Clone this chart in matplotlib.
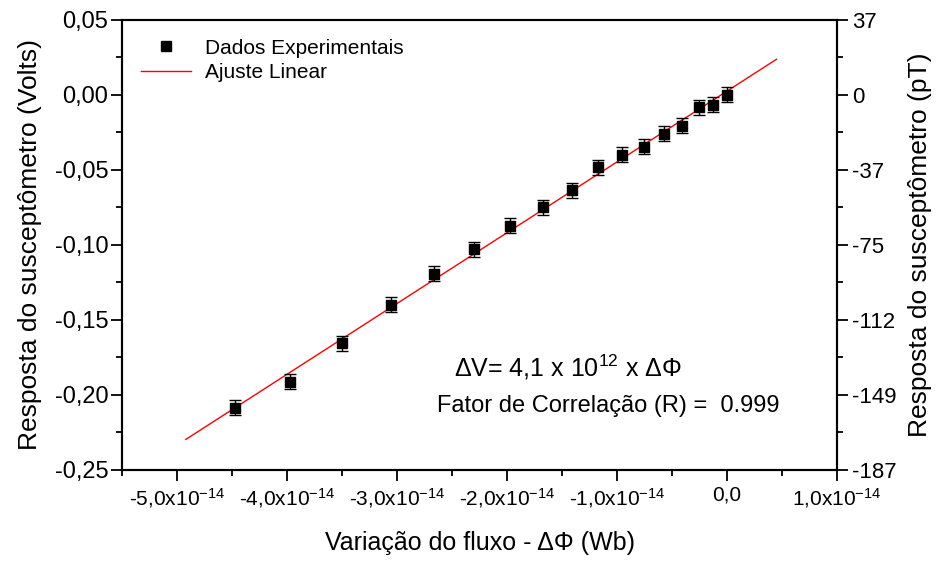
import matplotlib
matplotlib.use("Agg")
import matplotlib.pyplot as plt
import numpy as np
from matplotlib.ticker import FixedLocator, FuncFormatter, MultipleLocator

plt.rcParams["font.family"] = ["Liberation Sans", "DejaVu Sans"]
plt.rcParams["mathtext.fontset"] = "custom"
plt.rcParams["mathtext.rm"] = "Liberation Sans"
plt.rcParams["mathtext.it"] = "Liberation Sans:italic"
plt.rcParams["mathtext.default"] = "regular"

# fluxo (Wb) e resposta do susceptometro (V)
flux = np.array([-4.47, -3.97, -3.50, -3.055, -2.66, -2.297, -1.973, -1.676, -1.413,
                 -1.17, -0.952, -0.752, -0.57, -0.406, -0.258, -0.125, 0.0]) * 1e-14
volts = np.array([-0.2085, -0.1913, -0.1655, -0.1398, -0.1193, -0.1027, -0.0871, -0.0749,
                  -0.0635, -0.0482, -0.0400, -0.0345, -0.0260, -0.0205, -0.0082, -0.0065, 0.0])
volts_err = np.array([0.005] * 17)

fit_range = [-4.92e-14, 0.45e-14]

x_ticks = [-5e-14, -4e-14, -3e-14, -2e-14, -1e-14, 0.0, 1e-14]
x_ticklabels = ["-5,0x10$^{-14}$", "-4,0x10$^{-14}$", "-3,0x10$^{-14}$", "-2,0x10$^{-14}$",
                "-1,0x10$^{-14}$", "0,0", "1,0x10$^{-14}$"]
y_ticks = [0.05, 0.0, -0.05, -0.10, -0.15, -0.20, -0.25]
pt_ticklabels = ["37", "0", "-37", "-75", "-112", "-149", "-187"]

fig = plt.figure(figsize=(9.46, 5.63), dpi=100)
ax = fig.add_axes([0.129, 0.1652, 0.7558, 0.7993])

# ajuste linear
slope, intercept = np.polyfit(flux, volts, 1)
xf = np.array(fit_range)
ax.plot(xf, slope * xf + intercept, color="red", lw=1.0, label="Ajuste Linear", zorder=2)

ax.errorbar(flux, volts, yerr=volts_err, fmt="none", ecolor="black", capsize=4,
            elinewidth=1.0, capthick=1.0, zorder=3)
ax.plot(flux, volts, "s", color="black", ms=6.5, label="Dados Experimentais", zorder=4)

ax.set_xlim(-5.5e-14, 1.0e-14)
ax.set_ylim(-0.25, 0.05)

ax.xaxis.set_major_locator(FixedLocator(x_ticks))
ax.set_xticklabels(x_ticklabels)
ax.xaxis.set_minor_locator(MultipleLocator(0.5e-14))
ax.yaxis.set_major_locator(FixedLocator(y_ticks))
ax.yaxis.set_major_formatter(FuncFormatter(lambda v, p: f"{v:.2f}".replace(".", ",")))
ax.yaxis.set_minor_locator(MultipleLocator(0.025))

for s in ax.spines.values():
    s.set_linewidth(1.5)
ax.tick_params(which="major", direction="out", length=8, width=1.3, labelsize=15, top=False, right=False)
ax.tick_params(which="minor", direction="out", length=4.5, width=1.3, top=False, right=False)
ax.tick_params(axis="y", labelsize=17, pad=2)

ax.set_xlabel("Variação do fluxo - ΔΦ (Wb)", fontsize=18, labelpad=15)
ax.set_ylabel("Resposta do susceptômetro (Volts)", fontsize=19, labelpad=9)

# eixo da direita em pT
ax2 = ax.twinx()
ax2.set_ylim(ax.get_ylim())
ax2.yaxis.set_major_locator(FixedLocator(y_ticks))
ax2.set_yticklabels(pt_ticklabels)
ax2.yaxis.set_minor_locator(MultipleLocator(0.025))
for s in ax2.spines.values():
    s.set_linewidth(1.5)
ax2.tick_params(which="major", direction="out", length=8, width=1.3, labelsize=16, pad=3)
ax2.tick_params(which="minor", direction="out", length=4.5, width=1.3)
ax2.set_ylabel("Resposta do susceptômetro (pT)", fontsize=19, labelpad=8)

handles, labels = ax.get_legend_handles_labels()
ax.legend(handles[::-1], labels[::-1], loc="upper left", frameon=False, fontsize=15,
          bbox_to_anchor=(0.0, 1.0), handlelength=2.4, borderaxespad=0.5, labelspacing=0.25,
          handletextpad=0.7)

ax.text(0.624, 0.229, "ΔV= 4,1 x 10$^{12}$ x ΔΦ", transform=ax.transAxes, fontsize=18,
        ha="center", va="center")
ax.text(0.680, 0.142, "Fator de Correlação (R) =  0.999", transform=ax.transAxes, fontsize=17,
        ha="center", va="center")

fig.savefig("out.png", dpi=100)
